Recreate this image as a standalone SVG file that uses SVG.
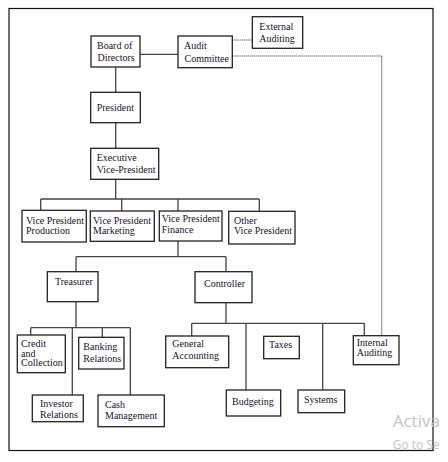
<svg xmlns="http://www.w3.org/2000/svg" width="448" height="462" viewBox="0 0 448 462">
<style>
.box{fill:#fff;stroke:#222;stroke-width:1.3}
.t{font-family:"Liberation Serif","Times New Roman",serif;font-size:10px;fill:#141428}
.ln{fill:none;stroke:#444;stroke-width:1.3}
.dot{fill:none;stroke:#333;stroke-width:1.2;stroke-dasharray:1 1}
.wm{font-family:"Open Sans","Noto Sans",sans-serif;fill:#c4c4c4}
</style>
<rect width="448" height="462" fill="#fff"/>
<rect x="9" y="8.5" width="424" height="442" fill="none" stroke="#111" stroke-width="1.2"/>
<g id="connectors">
<path class="ln" d="M140 54.3H178"/>
<path class="ln" d="M115.7 67V92.3M115.7 122.7V148.3M115.7 179.3V199M40.7 199H259.3M40.7 199V210.3M121.7 199V211M178 199V211M259.3 199V211.3"/>
<path class="ln" d="M178 241V256.7M76 256.7H226M76 256.7V271.7M226 256.7V271.7"/>
<path class="ln" d="M76 301.7V327.7M30.7 327.7H130.3M30.7 327.7V335M72.3 327.7V395M102.3 327.7V337.3M130.3 327.7V395"/>
<path class="ln" d="M226 302.7V323.3M191.7 323.3H364.3M191.7 323.3V336M246 323.3V390M322.7 323.3V390M364.3 323.3V335.7"/>
<path class="dot" d="M232.3 40H252.3"/>
<path class="dot" d="M232.3 56H381.7V335.7"/>
</g>
<g id="board"><rect class="box" x="91" y="36" width="49" height="31"/><text class="t" x="97" y="49">Board of</text><text class="t" x="97.5" y="61">Directors</text></g>
<g id="audit"><rect class="box" x="178" y="36" width="54.3" height="31.7"/><text class="t" x="184" y="48.5">Audit</text><text class="t" x="184.5" y="62">Committee</text></g>
<g id="external"><rect class="box" x="252.3" y="16.7" width="50.4" height="31.6"/><text class="t" x="259.3" y="29.5">External</text><text class="t" x="259.3" y="41.7">Auditing</text></g>
<g id="president"><rect class="box" x="90.7" y="92.3" width="49.6" height="30.4"/><text class="t" x="96.7" y="110.7">President</text></g>
<g id="evp"><rect class="box" x="90.7" y="148.3" width="68" height="31"/><text class="t" x="96.7" y="160.7">Executive</text><text class="t" x="96.7" y="172.7">Vice-President</text></g>
<g id="vp-production"><rect class="box" x="22" y="210.3" width="64.3" height="31.7"/><text class="t" x="26" y="223.7">Vice President</text><text class="t" x="26" y="234.3">Production</text></g>
<g id="vp-marketing"><rect class="box" x="90.3" y="211" width="64" height="30.3"/><text class="t" x="93" y="223.5">Vice President</text><text class="t" x="93" y="234">Marketing</text></g>
<g id="vp-finance"><rect class="box" x="159.3" y="211" width="62.7" height="30"/><text class="t" x="161.7" y="222">Vice President</text><text class="t" x="161.7" y="232.7">Finance</text></g>
<g id="other-vp"><rect class="box" x="228.7" y="211.3" width="66.3" height="32.7"/><text class="t" x="234" y="223.7">Other</text><text class="t" x="234" y="234.3">Vice President</text></g>
<g id="treasurer"><rect class="box" x="47.3" y="271.7" width="50.7" height="30"/><text class="t" x="55" y="285">Treasurer</text></g>
<g id="controller"><rect class="box" x="195" y="271.7" width="57" height="31"/><text class="t" x="204" y="286.7">Controller</text></g>
<g id="credit"><rect class="box" x="17.3" y="335" width="48" height="37.7"/><text class="t" x="21" y="346.7">Credit</text><text class="t" x="21" y="356.7">and</text><text class="t" x="21" y="366.3">Collection</text></g>
<g id="banking"><rect class="box" x="78.7" y="337.3" width="45.3" height="31.7"/><text class="t" x="83.3" y="350">Banking</text><text class="t" x="83.3" y="362">Relations</text></g>
<g id="investor"><rect class="box" x="32.3" y="395" width="51" height="26.7"/><text class="t" x="40" y="406.7">Investor</text><text class="t" x="40" y="418">Relations</text></g>
<g id="cash"><rect class="box" x="98" y="395" width="66.3" height="31.7"/><text class="t" x="105" y="408.3">Cash</text><text class="t" x="105" y="419.3">Management</text></g>
<g id="general-accounting"><rect class="box" x="165.7" y="336" width="63" height="31.7"/><text class="t" x="172.3" y="347.3">General</text><text class="t" x="172.3" y="359.3">Accounting</text></g>
<g id="taxes"><rect class="box" x="263.7" y="336.3" width="35.6" height="22.4"/><text class="t" x="269" y="348.3">Taxes</text></g>
<g id="internal-auditing"><rect class="box" x="353.3" y="335.7" width="45.7" height="29"/><text class="t" x="356.7" y="346">Internal</text><text class="t" x="356.7" y="356">Auditing</text></g>
<g id="budgeting"><rect class="box" x="226.3" y="390" width="54.4" height="26"/><text class="t" x="232" y="405">Budgeting</text></g>
<g id="systems"><rect class="box" x="298" y="390" width="46.7" height="22.7"/><text class="t" x="304" y="403.3">Systems</text></g>
<text class="wm" x="392.7" y="426.7" font-size="17">Activa</text>
<text class="wm" x="392.7" y="449" font-size="12">Go to Se</text>
</svg>
